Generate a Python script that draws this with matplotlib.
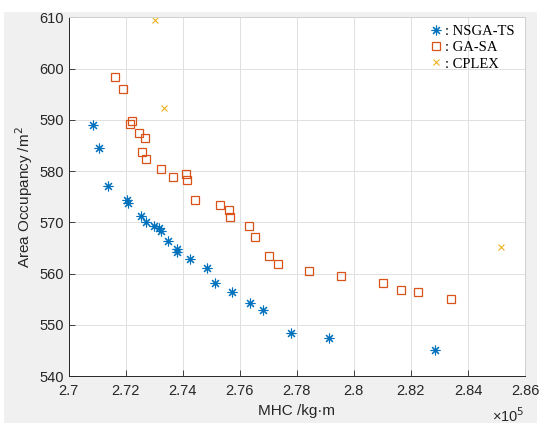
import numpy as np
import matplotlib.pyplot as plt
from matplotlib.patches import Rectangle

# du lieu doc tu hinh (MHC don vi 1e5 kg.m, dien tich m^2)
nsga_x = [2.7085, 2.7108, 2.7140, 2.7205, 2.7208, 2.7254, 2.7270, 2.7300, 2.7316,
          2.7324, 2.7349, 2.7379, 2.7380, 2.7426, 2.7484, 2.7513, 2.7572, 2.7636,
          2.7683, 2.7780, 2.7914, 2.8285]
nsga_y = [589.0, 584.4, 577.1, 574.3, 573.8, 571.3, 570.1, 569.3, 568.8,
          568.3, 566.3, 564.8, 564.2, 562.8, 561.0, 558.1, 556.3, 554.3,
          552.9, 548.3, 547.5, 545.0]

gasa_x = [2.7163, 2.7192, 2.7221, 2.7216, 2.7248, 2.7269, 2.7257, 2.7272, 2.7323,
          2.7366, 2.7411, 2.7416, 2.7443, 2.7530, 2.7563, 2.7565, 2.7633, 2.7654,
          2.7702, 2.7734, 2.7842, 2.7955, 2.8102, 2.8164, 2.8224, 2.8340]
gasa_y = [598.4, 596.1, 589.8, 589.2, 587.4, 586.4, 583.8, 582.3, 580.3,
          578.8, 579.4, 578.2, 574.4, 573.4, 572.3, 571.0, 569.3, 567.2,
          563.4, 561.9, 560.5, 559.5, 558.1, 556.8, 556.3, 555.1]

cplex_x = [2.7304, 2.7334, 2.8516]
cplex_y = [609.5, 592.3, 565.2]

xticks = [2.7, 2.72, 2.74, 2.76, 2.78, 2.8, 2.82, 2.84, 2.86]
yticks = [540, 550, 560, 570, 580, 590, 600, 610]

plt.rcParams['font.family'] = ['Liberation Sans', 'DejaVu Sans']

fig = plt.figure(figsize=(5.41, 4.28), dpi=100, facecolor='white')
bg = Rectangle((4/541, 5/428), 533/541, 411/428, transform=fig.transFigure,
               facecolor='#F0F0F0', edgecolor='none', zorder=-10)
fig.add_artist(bg)

ax = fig.add_axes([68.5/541, 52/428, 456.5/541, 358.7/428])
ax.set_facecolor('white')

ax.plot(nsga_x, nsga_y, linestyle='none', marker=(8, 2, 0), markersize=7,
        markeredgewidth=0.8, color='#0072BD', label=': NSGA-TS')
ax.plot(gasa_x, gasa_y, linestyle='none', marker='s', markersize=6,
        markerfacecolor='none', markeredgewidth=0.9, color='#D95319', label=': GA-SA')
ax.plot(cplex_x, cplex_y, linestyle='none', marker='x', markersize=5,
        markeredgewidth=0.8, color='#EDB120', label=': CPLEX')

ax.set_xlim(2.7, 2.86)
ax.set_ylim(540, 610)
ax.set_xticks(xticks)
ax.set_xticklabels(['%g' % t for t in xticks])
ax.set_yticks(yticks)

ax.grid(True, color='#E0E0E0', linewidth=0.7)
ax.set_axisbelow(True)
ax.tick_params(direction='in', length=4, width=0.6, colors='#262626',
               labelsize=10.5, top=False, right=False)
ax.tick_params(axis='x', pad=6)
for s in ['left', 'bottom']:
    ax.spines[s].set_color('#262626')
    ax.spines[s].set_linewidth(0.7)
for s in ['top', 'right']:
    ax.spines[s].set_color('#D0D0D0')
    ax.spines[s].set_linewidth(0.7)

ax.set_xlabel('MHC /kg·m', fontsize=11, color='#262626', labelpad=4)
ax.set_ylabel('Area Occupancy /m$^2$', fontsize=11, color='#262626', labelpad=3)
ax.text(1.0, -0.128, '×10$^5$', transform=ax.transAxes, ha='right',
        va='baseline', fontsize=10.5, color='#262626')

leg = ax.legend(loc='upper right', frameon=False, handlelength=0.8,
                handletextpad=0.2, labelspacing=0.2, borderaxespad=0.0,
                bbox_to_anchor=(1 - 5/456.5, 1 - 2/358.7),
                prop={'family': 'Liberation Serif', 'size': 10.5})

fig.savefig('out.png', dpi=100, facecolor=fig.get_facecolor())
